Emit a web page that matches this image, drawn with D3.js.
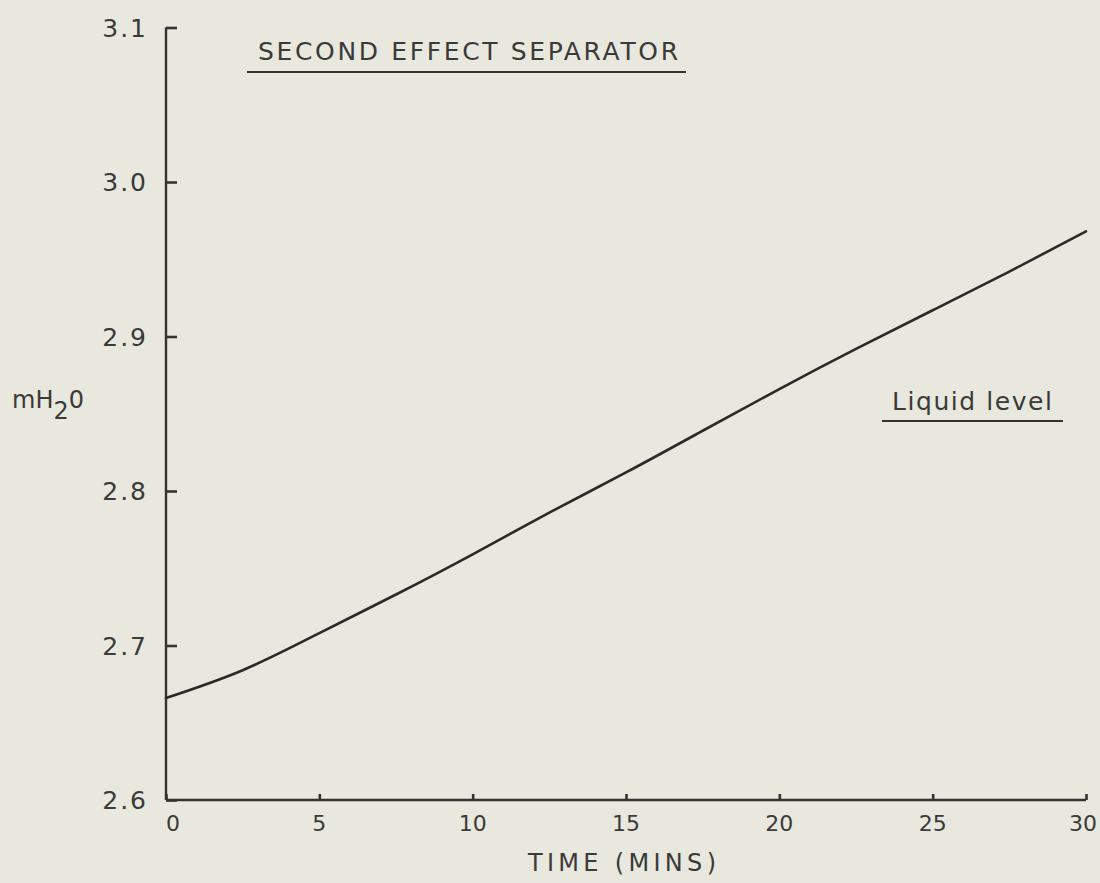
<!DOCTYPE html>
<html>
<head>
<meta charset="utf-8">
<script src="https://cdn.jsdelivr.net/npm/d3@7"></script>
<style>
  html, body { margin: 0; padding: 0; background: #e8e8df; }
  svg { display: block; }
  text { font-family: "DejaVu Sans", sans-serif; fill: #3a3a38; }
</style>
</head>
<body>
<script>
// liquid level readings (minutes, m H2O)
const times  = [0, 2.5, 5, 7.5, 10, 12.5, 15, 17.5, 20, 22.5, 25, 27.5, 30];
const levels = [2.666, 2.684, 2.708, 2.733, 2.759, 2.786, 2.812, 2.839, 2.866, 2.892, 2.917, 2.942, 2.968];
const xTicks = [0, 5, 10, 15, 20, 25, 30];
const yTicks = [2.6, 2.7, 2.8, 2.9, 3.0, 3.1];

let width = 1100, height = 883;

let x = d3.scaleLinear().domain([0, 30]).range([166, 1086]);
let y = d3.scaleLinear().domain([2.6, 3.1]).range([800, 27.5]);

let svg = d3.select("body").append("svg")
            .attr("width", width)
            .attr("height", height);

let ink = "#333331";

// y axis, ticks pointing inward
let yAxis = svg.append("g")
   .attr("transform", "translate(" + x(0) + ",0)")
   .call(d3.axisRight(y).tickValues(yTicks).tickSize(11).tickFormat(""));
yAxis.select(".domain").attr("d", "M0," + y(3.1) + "V" + y(2.6));

// x axis, ticks pointing up
let xAxis = svg.append("g")
   .attr("transform", "translate(0," + y(2.6) + ")")
   .call(d3.axisTop(x).tickValues(xTicks).tickSize(6).tickFormat(""));
xAxis.select(".domain").attr("d", "M" + x(0) + ",0H" + x(30));

svg.selectAll(".domain").attr("stroke", ink).attr("stroke-width", 2.4);
svg.selectAll(".tick line").attr("stroke", ink).attr("stroke-width", 2.6);

svg.selectAll(".ylab")
   .data(yTicks)
   .enter().append("text")
   .attr("x", x(0) - 18)
   .attr("y", d => y(d) + 9)
   .attr("text-anchor", "end")
   .attr("font-size", 25)
   .attr("letter-spacing", 2)
   .text(d => d.toFixed(1));

svg.selectAll(".xlab")
   .data(xTicks)
   .enter().append("text")
   .attr("x", d => d == 0 ? x(d) + 7 : Math.min(x(d), 1083))
   .attr("y", y(2.6) + 31)
   .attr("text-anchor", "middle")
   .attr("font-size", 22)
   .text(d => d);

svg.append("text")
   .attr("x", 528)
   .attr("y", 871)
   .attr("font-size", 24)
   .attr("textLength", 188)
   .text("TIME (MINS)");

let ylab = svg.append("text")
   .attr("x", 12)
   .attr("y", 408)
   .attr("font-size", 24);
ylab.append("tspan").text("mH");
ylab.append("tspan").attr("dy", 11).text("2");
ylab.append("tspan").attr("dy", -11).text("0");

// title
svg.append("text")
   .attr("x", 258)
   .attr("y", 60)
   .attr("font-size", 25)
   .attr("textLength", 420)
   .text("SECOND EFFECT SEPARATOR");
svg.append("line")
   .attr("x1", 247).attr("x2", 686)
   .attr("y1", 72).attr("y2", 72)
   .attr("stroke", ink).attr("stroke-width", 2);

svg.append("text")
   .attr("x", 892)
   .attr("y", 410)
   .attr("font-size", 25)
   .attr("textLength", 160)
   .text("Liquid level");
svg.append("line")
   .attr("x1", 882).attr("x2", 1063)
   .attr("y1", 421).attr("y2", 421)
   .attr("stroke", ink).attr("stroke-width", 2);

// the curve
let lineSpec = d3.line()
   .x((d, i) => x(times[i]))
   .y(d => y(d))
   .curve(d3.curveNatural);

svg.append("path")
   .datum(levels)
   .attr("fill", "none")
   .attr("stroke", "#2a2a28")
   .attr("stroke-width", 2.6)
   .attr("stroke-linecap", "round")
   .attr("d", lineSpec);
</script>
</body>
</html>
